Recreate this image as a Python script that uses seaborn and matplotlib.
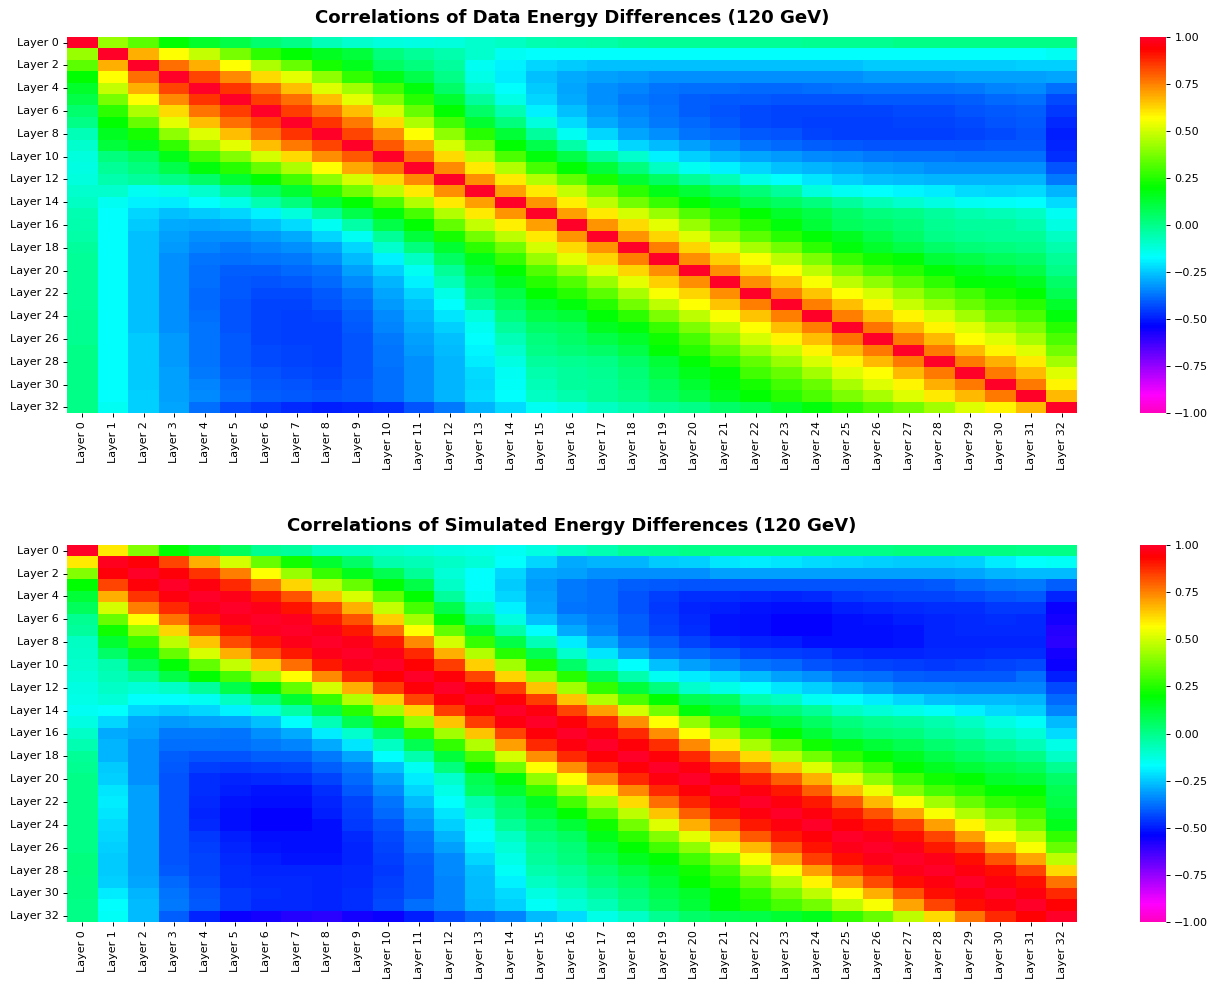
import numpy as np
import seaborn as sns
import matplotlib
matplotlib.use('Agg')
import matplotlib.pyplot as plt

# correlations, matrices are symmetric
# left blocks: row by row, columns 0 to min(row, 15)
data_left = [
    [1],
    [.42, 1],
    [.33, .68, 1],
    [.2, .57, .78, 1],
    [.14, .48, .68, .84, 1],
    [.1, .37, .57, .74, .86, 1],
    [.04, .26, .45, .62, .77, .85, 1],
    [0, .2, .35, .53, .66, .78, .85, 1],
    [-.07, .15, .23, .4, .52, .66, .77, .86, 1],
    [-.1, .11, .16, .27, .43, .53, .66, .76, .84, 1],
    [-.12, .02, .06, .17, .29, .39, .5, .62, .73, .81, 1],
    [-.13, -.02, .02, .09, .18, .25, .35, .45, .57, .69, .78, 1],
    [-.12, -.05, -.03, 0, .05, .13, .2, .29, .4, .5, .62, .74, 1],
    [-.1, -.1, -.15, -.14, -.1, -.03, .05, .13, .25, .36, .47, .6, .73, 1],
    [-.08, -.15, -.19, -.2, -.17, -.14, -.06, .02, .12, .2, .31, .46, .6, .71, 1],
    [-.06, -.17, -.23, -.26, -.25, -.23, -.19, -.12, -.03, .09, .18, .3, .46, .6, .72, 1],
    [-.05, -.17, -.25, -.29, -.3, -.29, -.26, -.22, -.15, -.04, .1, .2, .34, .48, .59, .71],
    [-.04, -.17, -.26, -.31, -.33, -.33, -.32, -.29, -.23, -.15, -.02, .11, .23, .36, .47, .6],
    [-.03, -.17, -.26, -.32, -.35, -.36, -.35, -.33, -.3, -.23, -.1, .02, .13, .26, .36, .5],
    [-.02, -.17, -.26, -.33, -.37, -.38, -.37, -.36, -.33, -.27, -.19, -.08, .06, .17, .28, .42],
    [-.02, -.17, -.26, -.33, -.38, -.4, -.4, -.39, -.37, -.31, -.24, -.15, -.02, .12, .2, .32],
    [-.02, -.17, -.26, -.33, -.38, -.41, -.42, -.41, -.39, -.34, -.28, -.19, -.07, .07, .15, .25],
    [-.02, -.17, -.26, -.33, -.39, -.41, -.43, -.43, -.41, -.37, -.3, -.23, -.14, .03, .1, .2],
    [-.02, -.17, -.26, -.33, -.39, -.42, -.44, -.44, -.42, -.39, -.32, -.26, -.17, -.03, .06, .14],
    [-.01, -.17, -.26, -.33, -.38, -.42, -.44, -.45, -.44, -.4, -.34, -.28, -.21, -.12, .02, .1],
    [-.01, -.17, -.26, -.33, -.37, -.42, -.44, -.45, -.45, -.41, -.35, -.29, -.24, -.15, -.03, .05],
    [-.01, -.17, -.25, -.32, -.37, -.41, -.44, -.45, -.45, -.42, -.36, -.31, -.26, -.17, -.07, .02],
    [0, -.17, -.25, -.32, -.37, -.41, -.43, -.44, -.45, -.42, -.37, -.32, -.27, -.18, -.1, 0],
    [0, -.17, -.25, -.32, -.37, -.41, -.43, -.44, -.45, -.42, -.37, -.33, -.28, -.2, -.13, -.03],
    [0, -.17, -.25, -.31, -.36, -.4, -.42, -.43, -.44, -.42, -.38, -.33, -.28, -.22, -.15, -.05],
    [0, -.17, -.25, -.31, -.35, -.39, -.41, -.42, -.43, -.41, -.38, -.33, -.28, -.23, -.16, -.07],
    [0, -.17, -.24, -.31, -.34, -.38, -.4, -.41, -.42, -.41, -.38, -.33, -.28, -.22, -.17, -.08],
    [0, -.15, -.24, -.3, -.38, -.43, -.46, -.48, -.5, -.49, -.47, -.42, -.36, -.28, -.22, -.15],
]
# right blocks: rows 16 to 32, from the diagonal to column 32
data_right = [
    [1, .72, .62, .53, .42, .32, .25, .18, .12, .07, .05, .03, -.01, -.03, -.03, -.05, -.13],
    [1, .72, .63, .52, .42, .33, .25, .19, .15, .1, .05, 0, -.01, -.02, -.02, -.08],
    [1, .75, .63, .53, .44, .36, .26, .18, .14, .1, .05, .03, .02, 0, -.05],
    [1, .73, .64, .56, .47, .38, .28, .22, .19, .12, .1, .07, .05, -.02],
    [1, .73, .63, .57, .47, .38, .3, .25, .19, .16, .13, .1, 0],
    [1, .73, .65, .56, .47, .4, .33, .26, .19, .18, .15, .05],
    [1, .75, .65, .57, .5, .42, .34, .29, .23, .2, .08],
    [1, .75, .66, .58, .49, .42, .35, .29, .25, .14],
    [1, .75, .66, .58, .51, .43, .35, .31, .18],
    [1, .77, .67, .58, .52, .44, .38, .25],
    [1, .76, .67, .57, .52, .44, .31],
    [1, .76, .67, .58, .52, .36],
    [1, .76, .68, .6, .43],
    [1, .76, .67, .52],
    [1, .76, .58],
    [1, .67],
    [1],
]
sim_left = [
    [1],
    [.6, .98],
    [.39, .95, 1],
    [.2, .84, .95, 1],
    [.12, .68, .86, .96, 1],
    [.07, .5, .75, .88, .97, 1],
    [-.01, .35, .57, .77, .9, .97, 1],
    [-.03, .22, .42, .63, .82, .91, .98, 1],
    [-.08, .13, .28, .47, .65, .83, .9, .97, 1],
    [-.09, .05, .16, .35, .51, .68, .82, .9, .97, 1],
    [-.1, -.05, .08, .19, .34, .48, .64, .78, .9, .97, 1],
    [-.11, -.07, -.02, .1, .2, .3, .43, .57, .74, .88, .94, 1],
    [-.13, -.09, -.11, -.09, -.03, .09, .19, .34, .5, .68, .85, .95, 1],
    [-.14, -.11, -.17, -.17, -.15, -.08, 0, .13, .28, .46, .64, .84, .95, 1],
    [-.15, -.17, -.23, -.25, -.23, -.19, -.13, -.04, .1, .25, .43, .63, .85, .95, 1],
    [-.13, -.23, -.3, -.32, -.31, -.3, -.26, -.17, -.07, .08, .24, .42, .65, .85, .96, 1],
    [-.09, -.29, -.31, -.36, -.36, -.37, -.33, -.29, -.2, -.1, .05, .25, .43, .65, .84, .95],
    [-.06, -.28, -.33, -.38, -.38, -.38, -.36, -.35, -.29, -.21, -.08, .08, .27, .46, .71, .88],
    [-.02, -.28, -.33, -.4, -.42, -.42, -.4, -.4, -.36, -.3, -.17, -.05, .11, .31, .5, .73],
    [-.01, -.25, -.33, -.41, -.45, -.46, -.45, -.44, -.4, -.36, -.26, -.15, .02, .2, .36, .57],
    [0, -.24, -.33, -.42, -.47, -.49, -.48, -.47, -.44, -.39, -.31, -.2, -.1, .08, .18, .41],
    [0, -.21, -.31, -.42, -.47, -.5, -.51, -.51, -.47, -.41, -.34, -.23, -.14, .06, .13, .28],
    [0, -.2, -.31, -.42, -.48, -.51, -.52, -.52, -.49, -.44, -.37, -.27, -.17, -.05, .05, .15],
    [0, -.21, -.31, -.42, -.49, -.52, -.54, -.54, -.5, -.45, -.39, -.31, -.21, -.08, .03, .11],
    [0, -.22, -.31, -.42, -.48, -.52, -.54, -.54, -.52, -.46, -.42, -.33, -.24, -.15, -.02, .06],
    [0, -.23, -.31, -.42, -.46, -.5, -.52, -.52, -.52, -.48, -.43, -.37, -.28, -.17, -.08, .02],
    [0, -.24, -.31, -.42, -.45, -.49, -.51, -.52, -.52, -.49, -.44, -.38, -.31, -.2, -.11, -.01],
    [.02, -.25, -.31, -.42, -.44, -.48, -.5, -.51, -.51, -.49, -.45, -.4, -.34, -.23, -.14, -.03],
    [.02, -.25, -.31, -.41, -.44, -.47, -.49, -.49, -.49, -.48, -.46, -.41, -.34, -.26, -.16, -.05],
    [.01, -.24, -.3, -.39, -.43, -.47, -.48, -.48, -.49, -.48, -.45, -.41, -.35, -.27, -.19, -.08],
    [.01, -.2, -.28, -.37, -.42, -.46, -.47, -.48, -.49, -.47, -.44, -.41, -.35, -.27, -.22, -.13],
    [0, -.17, -.27, -.36, -.41, -.46, -.48, -.48, -.49, -.47, -.43, -.38, -.35, -.28, -.24, -.16],
    [0, -.16, -.27, -.4, -.49, -.55, -.57, -.59, -.6, -.57, -.55, -.5, -.43, -.39, -.35, -.27],
]
sim_right = [
    [1, .96, .88, .73, .57, .44, .3, .2, .12, .06, .03, .02, -.02, -.04, -.08, -.11, -.22],
    [1, .95, .87, .74, .6, .44, .33, .22, .17, .12, .08, .04, .01, -.03, -.07, -.14],
    [1, .95, .88, .74, .62, .47, .36, .26, .2, .15, .1, .06, .03, 0, -.09],
    [1, .96, .88, .78, .65, .52, .39, .29, .2, .15, .12, .09, .07, -.01],
    [1, .95, .89, .8, .68, .53, .4, .29, .22, .2, .14, .12, .05],
    [1, .96, .9, .8, .66, .54, .39, .3, .25, .2, .2, .08],
    [1, .96, .9, .81, .67, .56, .43, .35, .27, .24, .1],
    [1, .96, .9, .82, .7, .56, .46, .37, .3, .13],
    [1, .95, .91, .85, .71, .58, .47, .36, .16],
    [1, .97, .92, .84, .71, .57, .47, .27],
    [1, .97, .9, .83, .68, .56, .35],
    [1, .97, .92, .82, .7, .47],
    [1, .96, .92, .84, .62],
    [1, .96, .92, .77],
    [1, .96, .88],
    [1, .94],
    [1],
]

labels = ['Layer ' + str(i) for i in range(33)]


def build_matrix(left, right):
    '''
    puts the two triangle blocks in one symmetric 33x33 matrix
    '''
    m = np.zeros((33, 33))
    for r, row in enumerate(left):
        for c, val in enumerate(row):
            m[r, c] = val
            m[c, r] = val
    for i, row in enumerate(right):
        for j, val in enumerate(row):
            m[i + 16, i + 16 + j] = val
            m[i + 16 + j, i + 16] = val
    return m


w, h = 1210, 981
fig = plt.figure(figsize=(w / 100, h / 100), dpi=100)

panels = [
    (data_left, data_right, 'Correlations of Data Energy Differences (120 GeV)', 37, 413),
    (sim_left, sim_right, 'Correlations of Simulated Energy Differences (120 GeV)', 545, 922),
]
for left, right, title, top, bottom in panels:
    ax = fig.add_axes([67 / w, 1 - bottom / h, 1010 / w, (bottom - top) / h])
    cax = fig.add_axes([1140 / w, 1 - bottom / h, 26 / w, (bottom - top) / h])
    sns.heatmap(build_matrix(left, right), ax=ax, cbar_ax=cax, cmap='gist_rainbow_r',
                vmin=-1, vmax=1, xticklabels=labels, yticklabels=labels)
    ax.set_yticks(ax.get_yticks()[::2])
    ax.set_yticklabels(labels[::2], rotation=0)
    ax.set_xticklabels(labels, rotation=90)
    ax.tick_params(labelsize=8, length=3, width=0.7, pad=3)
    ax.set_title(title, fontsize=13.1, fontweight='bold', pad=10)
    cax.set_yticks(np.arange(-1, 1.01, 0.25))
    cax.tick_params(labelsize=8, length=3, width=0.7, pad=3)

fig.savefig('out.png', dpi=100)
